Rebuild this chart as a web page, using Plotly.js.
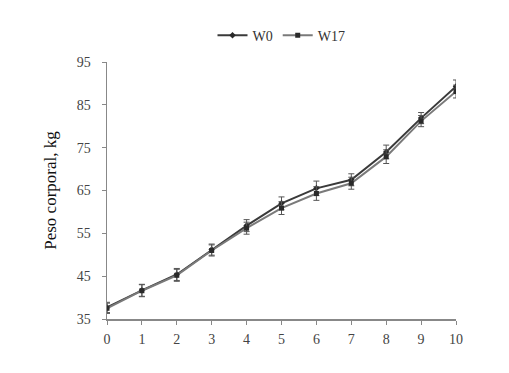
<!DOCTYPE html>
<html><head><meta charset="utf-8">
<script src="https://cdn.plot.ly/plotly-3.0.1.min.js"></script>
<style>body{margin:0;background:#fff}#c{width:509px;height:373px}</style>
</head><body><div id="c"></div>
<script>
const weeks = [0,1,2,3,4,5,6,7,8,9,10];
const w0 = [37.7,41.7,45.4,51.2,56.8,62.0,65.5,67.5,74.0,81.9,89.3];
const w0err = [1.2,1.4,1.4,1.3,1.4,1.5,1.7,1.4,1.6,1.3,1.5];
const w17 = [37.5,41.6,45.2,51.0,56.2,60.9,64.3,66.7,72.9,81.2,88.1];
const w17err = [1.2,1.4,1.4,1.3,1.4,1.5,1.6,1.4,1.6,1.3,1.5];
const yTicks = [35,45,55,65,75,85,95];

const traces = [
  {x: weeks, y: w0, name: 'W0', mode: 'lines+markers', type: 'scatter',
   line: {color: '#3a3a3a', width: 2}, marker: {symbol: 'diamond', size: 5, color: '#2a2a2a'},
   error_y: {type: 'data', array: w0err, color: '#555', thickness: 1, width: 3}},
  {x: weeks, y: w17, name: 'W17', mode: 'lines+markers', type: 'scatter',
   line: {color: '#7a7a7a', width: 2}, marker: {symbol: 'square', size: 5, color: '#2a2a2a'},
   error_y: {type: 'data', array: w17err, color: '#555', thickness: 1, width: 3}}
];
const layout = {
  width: 509, height: 373,
  margin: {l: 107, r: 53, t: 62, b: 54},
  paper_bgcolor: '#fff', plot_bgcolor: '#fff',
  font: {family: 'Liberation Serif, Times New Roman, serif', size: 14, color: '#333'},
  showlegend: true,
  legend: {orientation: 'h', x: 0.5, xanchor: 'center', y: 1.04, yanchor: 'bottom',
           font: {size: 14, color: '#333'}, itemwidth: 30, tracegroupgap: 0},
  xaxis: {range: [0, 10], tickvals: weeks, showgrid: false, zeroline: false,
          showline: true, linecolor: '#888', linewidth: 1.5, ticks: 'outside', ticklen: 4,
          tickcolor: '#888', tickfont: {size: 14, color: '#444'}, ticklabelstandoff: 3},
  yaxis: {range: [35, 95], tickvals: yTicks, showgrid: false, zeroline: false,
          showline: true, linecolor: '#888', linewidth: 1.5, ticks: 'outside', ticklen: 4,
          tickcolor: '#888', tickfont: {size: 14, color: '#444'}, ticklabelstandoff: 8,
          title: {text: 'Peso corporal, kg', font: {size: 17, color: '#111'}, standoff: 16}}
};
Plotly.newPlot('c', traces, layout, {displayModeBar: false, staticPlot: true});
</script></body></html>
